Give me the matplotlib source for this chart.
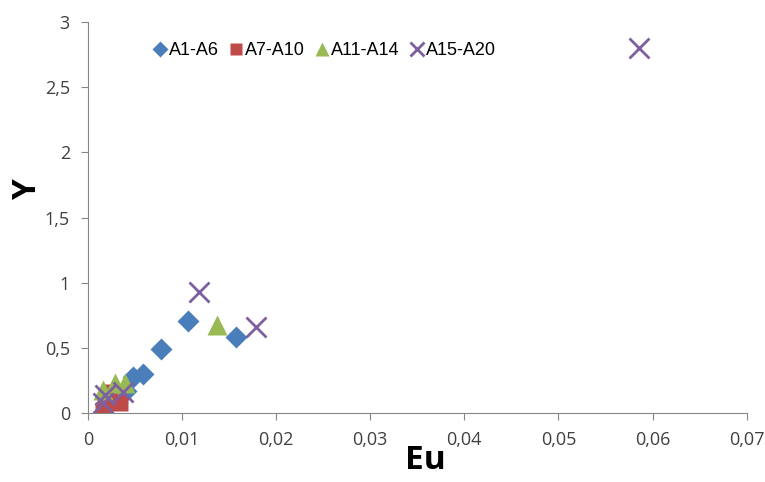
import matplotlib.pyplot as plt
from matplotlib.ticker import FuncFormatter, MultipleLocator

# Eu / Y pairs per sample group
a1_a6_x = [0.0040, 0.0048, 0.0058, 0.0078, 0.0106, 0.0157]
a1_a6_y = [0.17, 0.28, 0.30, 0.49, 0.71, 0.585]

a7_a10_x = [0.0016, 0.0018, 0.0023, 0.0034]
a7_a10_y = [0.02, 0.046, 0.16, 0.077]

a11_a14_x = [0.0016, 0.0029, 0.0039, 0.0137]
a11_a14_y = [0.18, 0.23, 0.23, 0.675]

a15_a20_x = [0.0016, 0.0018, 0.0037, 0.0118, 0.0179, 0.0586]
a15_a20_y = [0.077, 0.14, 0.16, 0.93, 0.66, 2.80]

fig = plt.figure(figsize=(7.65, 4.82), dpi=100)
ax = fig.add_axes([0.115, 0.143, 0.861, 0.811])

ax.plot(a1_a6_x, a1_a6_y, 'D', color='#4a7ebb', ms=11, mec='none', label='A1-A6')
ax.plot(a7_a10_x, a7_a10_y, 's', color='#be4b48', ms=12, mec='none', label='A7-A10')
ax.plot(a11_a14_x, a11_a14_y, '^', color='#98b954', ms=14, mec='none', label='A11-A14')
ax.plot(a15_a20_x, a15_a20_y, 'x', color='#7d60a0', ms=14, mew=2, label='A15-A20')

ax.set_xlim(0, 0.07)
ax.set_ylim(0, 3)
ax.xaxis.set_major_locator(MultipleLocator(0.01))
ax.yaxis.set_major_locator(MultipleLocator(0.5))

def comma(v, pos):
    s = ('%.2f' % v).rstrip('0').rstrip('.')
    return s.replace('.', ',')

ax.xaxis.set_major_formatter(FuncFormatter(comma))
ax.yaxis.set_major_formatter(FuncFormatter(comma))

for side in ['top', 'right']:
    ax.spines[side].set_visible(False)
for side in ['left', 'bottom']:
    ax.spines[side].set_color('#868686')
ax.tick_params(direction='out', length=5, color='#868686', labelsize=13,
               labelcolor='#404040', pad=8)
for lbl in ax.get_xticklabels() + ax.get_yticklabels():
    lbl.set_family('Open Sans')

# axis titles placed on the figure
fig.text(0.556, 0.045, 'Eu', fontsize=24, fontweight='bold', family='Open Sans',
         ha='center', va='center')
fig.text(0.036, 0.606, 'Y', fontsize=24, fontweight='bold', family='Open Sans',
         ha='center', va='center', rotation=90)

leg = ax.legend(loc='upper left', bbox_to_anchor=(0.075, 0.99), ncol=4, frameon=False,
                prop={'family': 'Liberation Sans', 'size': 13}, handlelength=0.7,
                handletextpad=0.15, columnspacing=0.6, markerscale=0.75)

plt.savefig('out.png', dpi=100)
